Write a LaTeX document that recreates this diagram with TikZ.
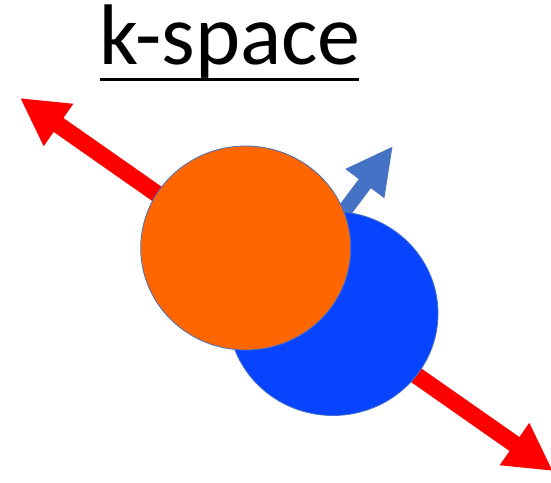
\documentclass[tikz,border=0pt]{standalone}
\usepackage{fontspec}
\setmainfont{Carlito}
\usetikzlibrary{arrows.meta, shapes.geometric}

\definecolor{kred}{RGB}{255,0,0}
\definecolor{korange}{RGB}{255,102,0}
\definecolor{kblue}{RGB}{8,68,255}
\definecolor{karrow}{RGB}{68,114,196}

\begin{document}
\begin{tikzpicture}[x=1pt, y=-1pt,
    bigarrow/.style={draw=kred, line width=17pt,
      {Triangle[length=47pt,width=48pt]}-{Triangle[length=47pt,width=48pt]}},
    smallarrow/.style={draw=karrow, line width=15pt,
      -{Triangle[length=47pt,width=45pt]}},
    arrowshadow/.style={draw=black, opacity=0.18, shift={(3,4)}},
    blob/.style={ellipse, draw=karrow, line width=0.8pt,
      minimum width=210pt, minimum height=204pt, inner sep=0pt}]

    \useasboundingbox (0,0) rectangle (551,482);

      %end points of the arrows
      \path (20,98) coordinate (P);
      \path (553,471) coordinate (Q);
      \path (315,250) coordinate (S);
      \path (393,146) coordinate (T);

      %shadows
      \draw[bigarrow, arrowshadow] (P) -- (Q);
      \draw[smallarrow, arrowshadow] (S) -- (T);

      %arrows
      \draw[bigarrow] (P) -- (Q);
      \draw[smallarrow] (S) -- (T);

      %the two spheres
      \node (blue) at (333,313.5) [blob, fill=kblue] {};
      \node (orange) at (245.7,248) [blob, fill=korange] {};

      %title
      \node (title) at (99,64) [anchor = base west, inner sep = 0pt,
        font = \fontsize{86}{94}\selectfont] {k-space};
      \draw[line width = 3pt] (100,79) -- (359,79);

\end{tikzpicture}
\end{document}
